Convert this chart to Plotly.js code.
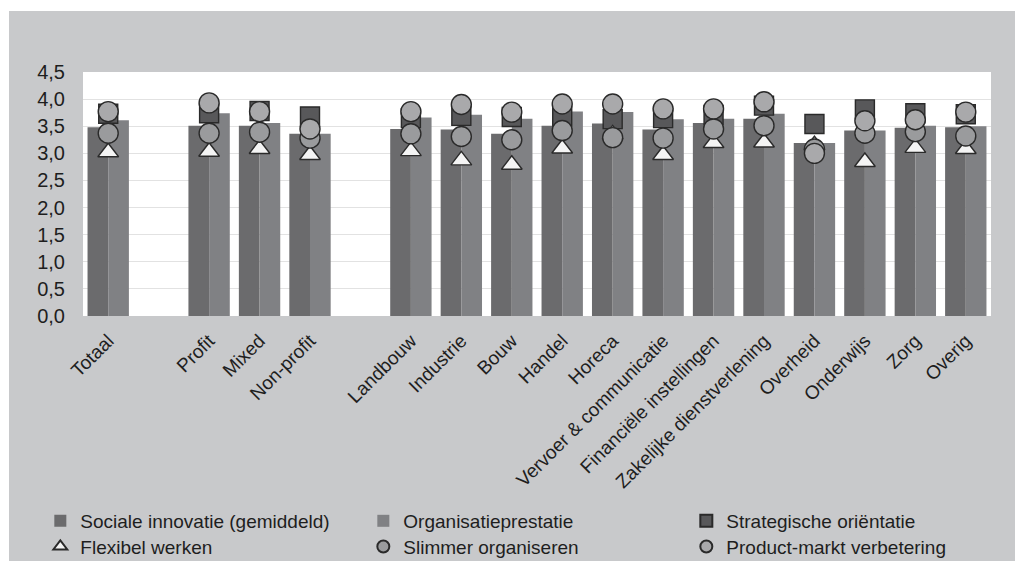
<!DOCTYPE html>
<html>
<head>
<meta charset="utf-8">
<script src="https://cdn.plot.ly/plotly-3.0.1.min.js"></script>
<style>
  html, body { margin: 0; padding: 0; background: #ffffff; }
  #chart { width: 1015px; height: 561px; }
</style>
</head>
<body>
<div id="chart"></div>
<script>
// Categories (blank entries are the empty gap slots)
const categories = ['Totaal', ' ', 'Profit', 'Mixed', 'Non-profit', '  ',
  'Landbouw', 'Industrie', 'Bouw', 'Handel', 'Horeca', 'Vervoer & communicatie',
  'Financiële instellingen', 'Zakelijke dienstverlening', 'Overheid', 'Onderwijs', 'Zorg', 'Overig'];

const seriesNames = ['Sociale innovatie (gemiddeld)', 'Organisatieprestatie', 'Strategische oriëntatie',
  'Flexibel werken', 'Slimmer organiseren', 'Product-markt verbetering'];

const socialeInnovatie    = [3.48, null, 3.51, 3.51, 3.36, null, 3.45, 3.44, 3.36, 3.51, 3.55, 3.44, 3.56, 3.64, 3.19, 3.42, 3.47, 3.48];
const organisatieprestatie = [3.61, null, 3.74, 3.56, 3.36, null, 3.66, 3.71, 3.64, 3.77, 3.76, 3.63, 3.64, 3.73, 3.19, 3.42, 3.51, 3.50];
const strategischeOrientatie = [3.73, null, 3.74, 3.78, 3.68, null, 3.65, 3.69, 3.67, 3.68, 3.63, 3.65, 3.71, 3.88, 3.54, 3.81, 3.74, 3.72];
const flexibelWerken      = [3.02, null, 3.03, 3.08, 2.97, null, 3.04, 2.87, 2.79, 3.09, 3.35, 2.97, 3.19, 3.20, 3.15, 2.84, 3.10, 3.08];
const slimmerOrganiseren  = [3.37, null, 3.37, 3.39, 3.28, null, 3.36, 3.31, 3.25, 3.42, 3.29, 3.28, 3.45, 3.51, 3.08, 3.37, 3.40, 3.32];
const productMarkt        = [3.77, null, 3.93, 3.77, 3.45, null, 3.77, 3.90, 3.76, 3.91, 3.91, 3.82, 3.82, 3.95, 3.00, 3.60, 3.62, 3.76];

const yTickValues = [0, 0.5, 1, 1.5, 2, 2.5, 3, 3.5, 4, 4.5];

const FONT = 'Liberation Sans, Arial, sans-serif';
const outline = {color: '#2a2a2a', width: 1.4};

const traces = [
  {type: 'bar', name: seriesNames[0], x: categories, y: socialeInnovatie,
   marker: {color: '#6b6b6d'}, legend: 'legend'},
  {type: 'bar', name: seriesNames[1], x: categories, y: organisatieprestatie,
   marker: {color: '#808184'}, legend: 'legend'},
  {type: 'scatter', mode: 'markers', name: seriesNames[2], x: categories, y: strategischeOrientatie,
   marker: {symbol: 'square', size: 19, color: '#58585a', line: outline}, legend: 'legend'},
  {type: 'scatter', mode: 'markers', name: seriesNames[3], x: categories, y: flexibelWerken,
   marker: {symbol: 'triangle-up', size: 18, color: '#f4f4f4', line: outline}, legend: 'legend2'},
  {type: 'scatter', mode: 'markers', name: seriesNames[4], x: categories, y: slimmerOrganiseren,
   marker: {symbol: 'circle', size: 20, color: '#9a9b9d', line: outline}, legend: 'legend2'},
  {type: 'scatter', mode: 'markers', name: seriesNames[5], x: categories, y: productMarkt,
   marker: {symbol: 'circle', size: 20, color: '#a9a9ab', line: outline}, legend: 'legend2'}
];

const legendBase = {
  orientation: 'h', xanchor: 'left', yanchor: 'middle',
  entrywidth: 278, entrywidthmode: 'pixels',
  font: {family: FONT, size: 19, color: '#1e1e1e'},
  bgcolor: 'rgba(0,0,0,0)', itemsizing: 'constant', traceorder: 'normal'
};

const layout = {
  width: 1015, height: 561,
  margin: {l: 83, r: 24, t: 72, b: 245, pad: 0, autoexpand: false},
  paper_bgcolor: '#c8c9cb',
  plot_bgcolor: '#ffffff',
  separators: ',.',
  font: {family: FONT, color: '#1e1e1e'},
  barmode: 'group', bargap: 0.18, bargroupgap: 0,
  showlegend: true,
  xaxis: {
    type: 'category', categoryorder: 'array', categoryarray: categories,
    range: [-0.5, categories.length - 0.5],
    tickangle: -45, tickfont: {family: FONT, size: 19, color: '#1e1e1e'},
    showgrid: false, zeroline: false, showline: false, ticks: '',
    ticklabelstandoff: 9, automargin: false, fixedrange: true
  },
  yaxis: {
    range: [0, 4.5], tickmode: 'array', tickvals: yTickValues, tickformat: '.1f',
    tickfont: {family: FONT, size: 20, color: '#1e1e1e'},
    gridcolor: '#e2e2e2', gridwidth: 1, zeroline: false, showline: false, ticks: '',
    ticklabelstandoff: 17, automargin: false, fixedrange: true
  },
  legend: Object.assign({}, legendBase, {x: -0.047, y: -0.84}),
  legend2: Object.assign({}, legendBase, {x: -0.047, y: -0.945}),
  shapes: [
    {type: 'rect', xref: 'paper', yref: 'paper', x0: -0.0914, x1: 1.03, y0: 1.25, y1: 1.3,
     fillcolor: '#ffffff', line: {width: 0}, layer: 'above'},
    {type: 'rect', xref: 'paper', yref: 'paper', x0: -0.0914, x1: -0.0815, y0: -1.01, y1: 1.3,
     fillcolor: '#ffffff', line: {width: 0}, layer: 'above'}
  ]
};

Plotly.newPlot('chart', traces, layout, {displayModeBar: false, staticPlot: true});
</script>
</body>
</html>
